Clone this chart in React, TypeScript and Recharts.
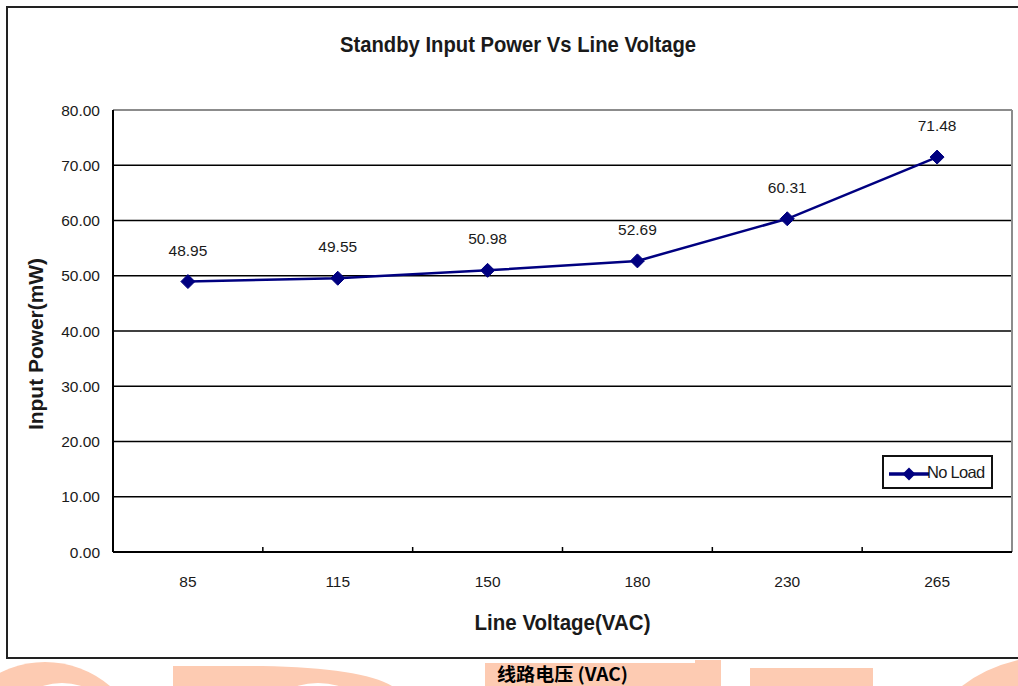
import React from 'react';
import { LineChart, Line, XAxis, YAxis, CartesianGrid, ReferenceLine, LabelList, Legend } from 'recharts';

const voltages = ['85', '115', '150', '180', '230', '265'];
const noLoad = [48.95, 49.55, 50.98, 52.69, 60.31, 71.48];
const yTicks = [0, 10, 20, 30, 40, 50, 60, 70, 80];
const xIndexTicks = [0, 1, 2, 3, 4, 5];
const boundaryTicks = [0.5, 1.5, 2.5, 3.5, 4.5];
const seriesName = 'No Load';
const titleText = 'Standby Input Power Vs Line Voltage';
const xTitle = 'Line Voltage(VAC)';
const yTitle = 'Input Power(mW)';
const cnCaption = '线路电压 (VAC)';

const data = voltages.map((v, i) => ({ idx: i, voltage: v, noLoad: noLoad[i] }));

const NAVY = '#000080';
const TEXT = '#1a1a1a';
const PEACH = '#FDCBB2';
const ARIAL = '"Liberation Sans", Arial, sans-serif';
const NARROW = '"Liberation Sans Narrow", "Arial Narrow", "Liberation Sans", Arial, sans-serif';

const Diamond = (props: any) => {
  const { cx, cy, index } = props;
  if (cx == null || cy == null) return <g key={`dd-${index}`} />;
  const s = 7;
  return (
    <polygon
      key={`d-${index}`}
      points={`${cx},${cy - s} ${cx + s},${cy} ${cx},${cy + s} ${cx - s},${cy}`}
      fill={NAVY}
      stroke={NAVY}
    />
  );
};

const TickMark = (props: any) => {
  const { x1, y1, y2 } = props;
  const yb = Math.max(y1, y2);
  return <line x1={x1} x2={x1} y1={yb} y2={yb - 5} stroke="#000" strokeWidth={1.5} />;
};

const LegendBox = (props: any) => {
  const name = props.payload && props.payload[0] ? props.payload[0].value : seriesName;
  return (
    <div
      style={{
        width: 111,
        height: 34,
        border: '2px solid #111',
        boxSizing: 'border-box',
        background: '#fff',
        position: 'relative',
      }}
    >
      <svg width={44} height={16} style={{ position: 'absolute', left: 3, top: 9 }}>
        <line x1={2} x2={42} y1={8} y2={8} stroke={NAVY} strokeWidth={3.5} />
        <polygon points="22,1.5 28.5,8 22,14.5 15.5,8" fill={NAVY} />
      </svg>
      <span
        style={{
          position: 'absolute',
          left: 43,
          top: 6,
          fontFamily: ARIAL,
          fontSize: 16.5,
          letterSpacing: -0.7,
          color: TEXT,
          lineHeight: '18px',
        }}
      >
        {name}
      </span>
    </div>
  );
};

const XTitle = (props: any) => {
  const vb = props.viewBox || { x: 113, y: 552, width: 899, height: 30 };
  return (
    <text
      x={vb.x + vb.width / 2}
      y={vb.y + 78}
      textAnchor="middle"
      fontFamily={NARROW}
      fontWeight="bold"
      fontSize={22}
      fill={TEXT}
      textLength={176}
      lengthAdjust="spacingAndGlyphs"
    >
      {xTitle}
    </text>
  );
};

const YTitle = (props: any) => {
  const vb = props.viewBox || { x: 0, y: 110, width: 113, height: 442 };
  const cx = vb.x + 43;
  const cy = vb.y + vb.height / 2 + 13;
  return (
    <text
      x={cx}
      y={cy}
      transform={`rotate(-90, ${cx}, ${cy})`}
      textAnchor="middle"
      fontFamily={ARIAL}
      fontWeight="bold"
      fontSize={20}
      fill={TEXT}
      textLength={172}
      lengthAdjust="spacingAndGlyphs"
    >
      {yTitle}
    </text>
  );
};

export default function App() {
  return (
    <div style={{ position: 'absolute', left: 0, top: 0, width: 1018, height: 686, overflow: 'hidden', background: '#fff' }}>
      <svg width={1018} height={686} style={{ position: 'absolute', left: 0, top: 0 }}>
        {/* watermark shapes */}
        <path d="M -20 686 A 100 100 0 0 1 110 686 Z" fill={PEACH} />
        <ellipse cx={62} cy={720} rx={48} ry={37} fill="#fff" />
        <path d="M 173 686 L 173 666 L 262 666 Q 362 668 392 686 Z" fill={PEACH} />
        <ellipse cx={318} cy={718} rx={52} ry={35} fill="#fff" />
        <rect x={485} y={663} width={212} height={30} fill={PEACH} />
        <rect x={695} y={660} width={26} height={30} fill={PEACH} />
        <rect x={750} y={668} width={123} height={30} fill={PEACH} />
        <path d="M 962 686 Q 985 668 1018 660 L 1018 686 Z" fill={PEACH} />
        {/* outer frame */}
        <rect x={7} y={7} width={1030} height={651} fill="none" stroke="#222" strokeWidth={2} />
        {/* title */}
        <text
          x={518}
          y={52}
          textAnchor="middle"
          fontFamily={NARROW}
          fontWeight="bold"
          fontSize={22}
          fill={TEXT}
          textLength={356}
          lengthAdjust="spacingAndGlyphs"
        >
          {titleText}
        </text>
        <text
          x={497}
          y={681}
          fontFamily='"Noto Sans CJK SC", sans-serif'
          fontWeight="bold"
          fontSize={18}
          fill="#000"
          textLength={131}
          lengthAdjust="spacingAndGlyphs"
        >
          {cnCaption}
        </text>
      </svg>
      <div style={{ position: 'absolute', left: 0, top: 0 }}>
        <LineChart width={1018} height={686} data={data} margin={{ top: 110, right: 6, bottom: 104, left: 0 }}>
          <CartesianGrid vertical={false} stroke="#000" strokeWidth={1.3} />
          <XAxis
            dataKey="idx"
            type="number"
            domain={[-0.5, 5.5]}
            ticks={xIndexTicks}
            tickFormatter={(i: number) => voltages[i]}
            tickLine={false}
            tickSize={6}
            tickMargin={18}
            height={30}
            axisLine={{ stroke: '#000', strokeWidth: 2 }}
            tick={{ fontSize: 15.5, fill: TEXT, fontFamily: ARIAL }}
            label={<XTitle />}
            interval={0}
          />
          <YAxis
            type="number"
            domain={[0, 80]}
            ticks={yTicks}
            tickFormatter={(v: number) => v.toFixed(2)}
            width={113}
            tickLine={false}
            tickSize={0}
            tickMargin={13}
            axisLine={{ stroke: '#000', strokeWidth: 2 }}
            tick={{ fontSize: 15.5, fill: TEXT, fontFamily: ARIAL }}
            label={<YTitle />}
            interval={0}
          />
          <ReferenceLine y={80} stroke="#8c8c8c" strokeWidth={2} />
          <ReferenceLine x={5.5} stroke="#8c8c8c" strokeWidth={2} />
          {boundaryTicks.map((b) => (
            <ReferenceLine key={`b-${b}`} x={b} shape={TickMark} />
          ))}
          <Legend
            layout="vertical"
            align="center"
            verticalAlign="middle"
            content={<LegendBox />}
            wrapperStyle={{ left: 882, top: 455, width: 111, height: 34 }}
          />
          <Line
            type="linear"
            dataKey="noLoad"
            name={seriesName}
            stroke={NAVY}
            strokeWidth={2.5}
            dot={Diamond}
            activeDot={false}
            isAnimationActive={false}
          >
            <LabelList
              dataKey="noLoad"
              position="top"
              offset={26}
              formatter={(v: any) => Number(v).toFixed(2)}
              style={{ fontSize: 15.5, fill: TEXT, fontFamily: ARIAL }}
            />
          </Line>
        </LineChart>
      </div>
    </div>
  );
}
